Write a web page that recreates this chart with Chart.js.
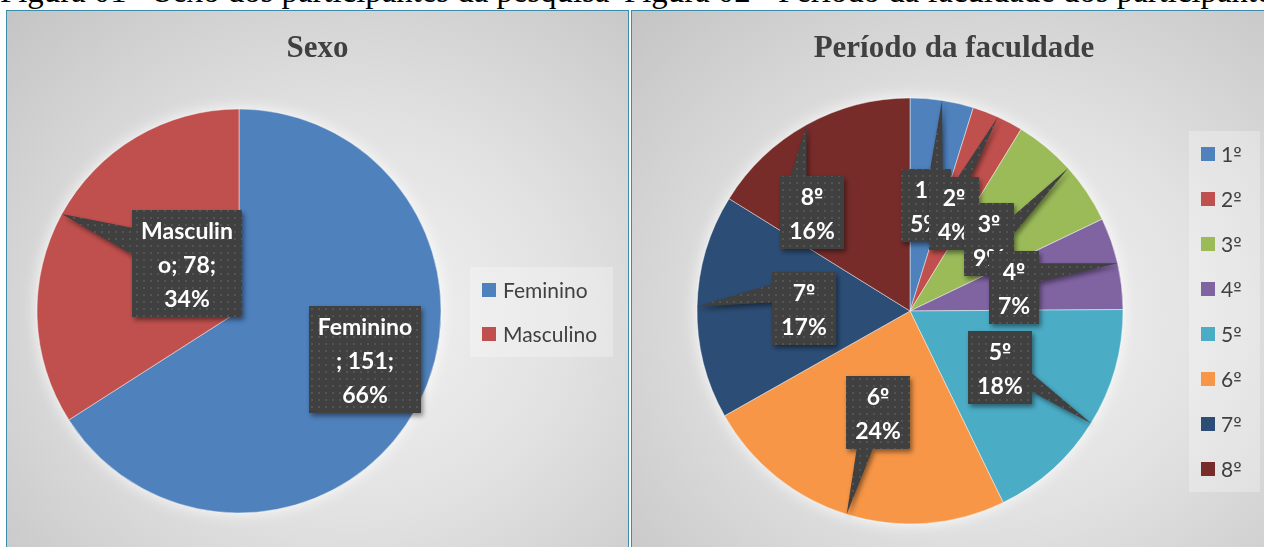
<!DOCTYPE html>
<html>
<head>
<meta charset="utf-8">
<script src="https://cdn.jsdelivr.net/npm/chart.js@4"></script>
<style>
  html, body { margin: 0; padding: 0; width: 1264px; height: 547px; overflow: hidden; background: #fff; }
  .caption { position: absolute; top: -26px; font-family: "Liberation Serif", "Times New Roman", serif;
    font-size: 32.8px; line-height: 34px; color: #000; white-space: nowrap; }
  .panel { position: absolute; top: 10px; height: 560px; box-sizing: border-box; border: 1px solid #3a8eac;
    background: radial-gradient(ellipse farthest-corner at 55% 55%, #f3f3f3 0%, #e2e2e2 45%, #c4c4c4 100%); }
  .panel canvas { position: absolute; left: 0; top: 0; }
  #p1 { left: 6px; width: 623px; }
  #p2 { left: 631px; width: 646px; }
</style>
</head>
<body>
<div class="caption" style="left:0px">Figura 01 - Sexo dos participantes da pesquisa</div>
<div class="caption" style="left:624px">Figura 02 - Período da faculdade dos participantes</div>
<div class="panel" id="p1"><canvas id="sexChart" width="621" height="536"></canvas></div>
<div class="panel" id="p2"><canvas id="periodChart" width="644" height="536"></canvas></div>
<script>
// data
const sexLabels = ['Feminino', 'Masculino'];
const sexValues = [151, 78];
const periodLabels = ['1º', '2º', '3º', '4º', '5º', '6º', '7º', '8º'];
const periodValues = [11, 9, 21, 16, 41, 55, 39, 37];

const sexColors = ['#4F81BD', '#C0504D'];
const periodColors = ['#4F81BD', '#C0504D', '#9BBB59', '#8064A2', '#4BACC6', '#F79646', '#2C4D75', '#772C2A'];

const LABEL_SIZE = 23;
const LABEL_FONT = 'bold ' + LABEL_SIZE + 'px Lato, "Open Sans", sans-serif';
const LEGEND_SIZE = 21;
const LEGEND_FONT = LEGEND_SIZE + 'px Lato, "Open Sans", sans-serif';
const LINE_H = 34;

// fillText with alphabetic baseline, underlining every º like Calibri does
function drawText(ctx, text, x, y, size, align) {
    const full = ctx.measureText(text).width;
    const x0 = align === 'center' ? x - full / 2 : x;
    ctx.textAlign = 'left';
    ctx.textBaseline = 'alphabetic';
    ctx.fillText(text, x0, y);
    for (let i = 0; i < text.length; i++) {
        if (text[i] !== 'º') continue;
        const off = ctx.measureText(text.slice(0, i)).width;
        const cw = ctx.measureText('º').width;
        ctx.fillRect(x0 + off + cw * 0.12, y - size * 0.33, cw * 0.76, Math.max(1.3, size * 0.065));
    }
}

function wrapText(ctx, text, maxW) {
    const lines = [];
    let line = '';
    text.split(' ').forEach(word => {
        const cand = line ? line + ' ' + word : word;
        if (ctx.measureText(cand).width <= maxW) { line = cand; return; }
        if (line) { lines.push(line); line = ''; }
        while (ctx.measureText(word).width > maxW) {
            let n = word.length - 1;
            while (n > 1 && ctx.measureText(word.slice(0, n)).width > maxW) n--;
            lines.push(word.slice(0, n));
            word = word.slice(n);
        }
        line = word;
    });
    if (line) lines.push(line);
    return lines;
}

let dots = null;
function dotPattern(ctx) {
    if (dots) return dots;
    const c = document.createElement('canvas');
    c.width = 7; c.height = 7;
    const g = c.getContext('2d');
    g.fillStyle = '#404040';
    g.fillRect(0, 0, 7, 7);
    g.fillStyle = '#545454';
    g.fillRect(3, 3, 2, 2);
    dots = ctx.createPattern(c, 'repeat');
    return dots;
}

// rectangle callout with a wedge pointing at (px, py)
function calloutPath(ctx, x, y, w, h, px, py) {
    const dx = (px - (x + w / 2)) / w, dy = (py - (y + h / 2)) / h;
    const inside = Math.abs(dx) <= 0.5 && Math.abs(dy) <= 0.5;
    const vert = Math.abs(dy) >= Math.abs(dx);
    const ax = dx < 0 ? [w / 6, 5 * w / 12] : [7 * w / 12, 5 * w / 6];
    const ay = dy < 0 ? [h / 6, 5 * h / 12] : [7 * h / 12, 5 * h / 6];
    ctx.beginPath();
    ctx.moveTo(x, y);
    if (!inside && vert && dy < 0) {
        ctx.lineTo(x + ax[0], y); ctx.lineTo(px, py); ctx.lineTo(x + ax[1], y);
    }
    ctx.lineTo(x + w, y);
    if (!inside && !vert && dx > 0) {
        ctx.lineTo(x + w, y + ay[0]); ctx.lineTo(px, py); ctx.lineTo(x + w, y + ay[1]);
    }
    ctx.lineTo(x + w, y + h);
    if (!inside && vert && dy > 0) {
        ctx.lineTo(x + ax[1], y + h); ctx.lineTo(px, py); ctx.lineTo(x + ax[0], y + h);
    }
    ctx.lineTo(x, y + h);
    if (!inside && !vert && dx < 0) {
        ctx.lineTo(x, y + ay[1]); ctx.lineTo(px, py); ctx.lineTo(x, y + ay[0]);
    }
    ctx.closePath();
}

const officePie = {
    id: 'officePie',
    beforeDraw(chart, args, opts) {
        const ctx = chart.ctx;
        ctx.save();
        // title
        ctx.font = 'bold 31px "Liberation Serif", "Times New Roman", serif';
        ctx.fillStyle = '#404040';
        ctx.textAlign = 'center';
        ctx.textBaseline = 'alphabetic';
        ctx.fillText(opts.title, chart.width / 2, opts.titleY);
        // legend
        const lg = opts.legend;
        ctx.fillStyle = 'rgba(255,255,255,0.28)';
        ctx.fillRect(lg.x, lg.y, lg.w, lg.h);
        ctx.font = LEGEND_FONT;
        const ds = chart.data.datasets[0];
        chart.data.labels.forEach((lab, i) => {
            const cy = lg.firstY + i * lg.step;
            ctx.fillStyle = ds.backgroundColor[i];
            ctx.fillRect(lg.boxX, cy - 7, 14, 14);
            ctx.fillStyle = '#404040';
            drawText(ctx, lab, lg.textX, cy + 8, LEGEND_SIZE, 'left');
        });
        ctx.restore();
    },
    beforeDatasetsDraw(chart) {
        // soft light halo round the pie
        const arc = chart.getDatasetMeta(0).data[0];
        const ctx = chart.ctx;
        ctx.save();
        ctx.shadowColor = 'rgba(255,255,255,0.9)';
        ctx.shadowBlur = 16;
        ctx.beginPath();
        ctx.arc(arc.x, arc.y, arc.outerRadius, 0, Math.PI * 2);
        ctx.fillStyle = '#d0d0d0';
        ctx.fill();
        ctx.restore();
    },
    afterDatasetsDraw(chart, args, opts) {
        const ctx = chart.ctx;
        const meta = chart.getDatasetMeta(0);
        const values = chart.data.datasets[0].data;
        const total = values.reduce((a, b) => a + b, 0);
        ctx.save();
        ctx.font = LABEL_FONT;
        meta.data.forEach((arc, i) => {
            const pct = Math.round(values[i] / total * 100);
            const lab = chart.data.labels[i];
            const lines = opts.fullText
                ? wrapText(ctx, `${lab}; ${values[i]}; ${pct}%`, opts.wrapWidth)
                : [lab, pct + '%'];
            const mid = (arc.startAngle + arc.endAngle) / 2;
            const pl = opts.placement[i] || [0.5, 0];
            const a = mid + pl[1] * Math.PI / 180;
            const cx = arc.x + Math.cos(a) * arc.outerRadius * pl[0];
            const cy = arc.y + Math.sin(a) * arc.outerRadius * pl[0];
            const tipX = arc.x + Math.cos(mid) * arc.outerRadius;
            const tipY = arc.y + Math.sin(mid) * arc.outerRadius;
            const tw = Math.max(...lines.map(l => ctx.measureText(l).width));
            const w = Math.round(tw + 18), h = lines.length * LINE_H + 5;
            const x = Math.round(cx - w / 2), y = Math.round(cy - h / 2);

            ctx.save();
            ctx.shadowColor = 'rgba(0,0,0,0.45)';
            ctx.shadowBlur = 5;
            ctx.shadowOffsetX = 2;
            ctx.shadowOffsetY = 3;
            calloutPath(ctx, x, y, w, h, tipX, tipY);
            ctx.fillStyle = dotPattern(ctx);
            ctx.fill();
            ctx.restore();

            ctx.fillStyle = '#ffffff';
            lines.forEach((l, k) => drawText(ctx, l, x + w / 2, y + 2.5 + k * LINE_H + 26, LABEL_SIZE, 'center'));
        });
        ctx.restore();
    }
};

function makePie(id, labels, values, colors, pad, extra) {
    return new Chart(document.getElementById(id), {
        type: 'pie',
        data: {
            labels: labels,
            datasets: [{
                data: values,
                backgroundColor: colors,
                borderColor: 'rgba(255,255,255,0.45)',
                borderWidth: 1
            }]
        },
        options: {
            responsive: false,
            animation: false,
            layout: { padding: pad },
            plugins: {
                legend: { display: false },
                tooltip: { enabled: false },
                title: { display: false },
                officePie: extra
            }
        },
        plugins: [officePie]
    });
}

function init() {
    makePie('sexChart', sexLabels, sexValues, sexColors,
        { left: 29.5, right: 186.5, top: 97.5, bottom: 33.5 },
        {
            title: 'Sexo', titleY: 46,
            legend: { x: 463, y: 256, w: 143, h: 90, boxX: 475, textX: 496, firstY: 279, step: 44 },
            fullText: true, wrapWidth: 100,
            placement: [[0.667, -7.5], [0.347, 13.9]]
        });

    makePie('periodChart', periodLabels, periodValues, periodColors,
        { left: 64.5, right: 152.5, top: 86.5, bottom: 22.5 },
        {
            title: 'Período da faculdade', titleY: 46,
            legend: { x: 557, y: 120, w: 71, h: 361, boxX: 569, textX: 589, firstY: 143, step: 45 },
            fullText: false,
            placement: [[0.5, 0], [0.5, 0], [0.5, 0], [0.5, 0], [0.5, 0], [0.5, 0], [0.5, 0], [0.653, -15.8]]
        });
}

Promise.all([document.fonts.load(LABEL_FONT), document.fonts.load(LEGEND_FONT)]).then(init, init);
</script>
</body>
</html>
